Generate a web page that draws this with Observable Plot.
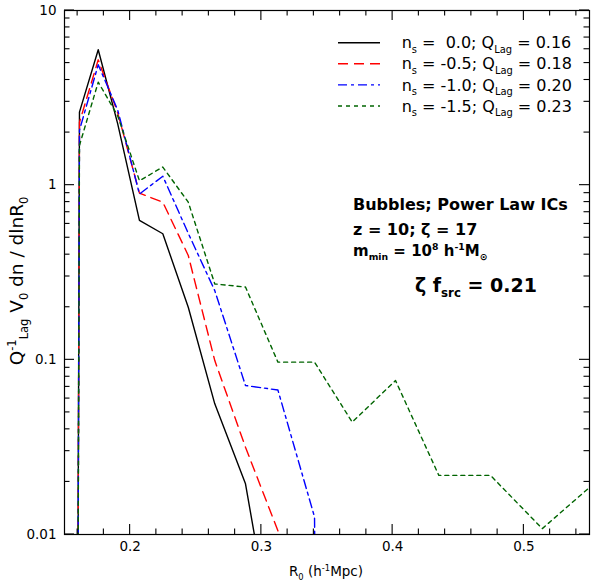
<!DOCTYPE html>
<html><head><meta charset="utf-8">
<script src="https://cdn.jsdelivr.net/npm/d3@7"></script>
<script src="https://cdn.jsdelivr.net/npm/@observablehq/plot@0.6"></script>
<style>
body{margin:0;background:#fff}
#chart{width:594px;height:582px}
text{white-space:pre}
</style>
</head><body><div id="chart"></div>
<script>
// Bin centres R0 (h^-1 Mpc)
const R0 = [0.1485, 0.1614, 0.1757, 0.1905, 0.2071, 0.2249, 0.2443, 0.2645, 0.2879, 0.3126, 0.3405, 0.3692, 0.4022, 0.4352, 0.4746, 0.5140, 0.558];
// Q_Lag^-1 V0 dn/dlnR0 (0 = empty bin)
const ns00 = [0, 2.62, 5.96, 2.25, 0.628, 0.527, 0.200, 0.056, 0.0195, 0.0017, 0, 0, 0, 0, 0, 0, 0];
const ns05 = [0, 2.29, 5.22, 2.60, 0.900, 0.799, 0.396, 0.099, 0.0316, 0.0105, 0, 0, 0, 0, 0, 0, 0];
const ns10 = [0, 2.06, 4.89, 2.70, 0.890, 1.125, 0.530, 0.249, 0.0713, 0.0672, 0.0126, 0, 0, 0, 0, 0, 0];
const ns15 = [0, 1.69, 3.89, 2.50, 1.060, 1.270, 0.799, 0.272, 0.261, 0.097, 0.097, 0.044, 0.0761, 0.0218, 0.0218, 0.0108, 0.021];
const seriesValues = [ns00, ns05, ns10, ns15];
const nsLabels = [" 0.0", "-0.5", "-1.0", "-1.5"];
const qLagLabels = ["0.16", "0.18", "0.20", "0.23"];
const colors = ["#000000", "#ff0000", "#0000ff", "#006400"];
const dashes = [null, "10,6", "9,4,3,4", "4,4"];

const xTicks = [0.2, 0.3, 0.4, 0.5];
const xTickLabels = ["0.2", "0.3", "0.4", "0.5"];
const yTicks = [0.01, 0.1, 1, 10];
const yTickLabels = ["0.01", "0.1", "1", "10"];

const xMinor = d3.range(0.16, 0.5401, 0.02).filter(v => !xTicks.some(t => Math.abs(t - v) < 1e-6));
const yMinor = [];
for (const dec of [0.01, 0.1, 1]) for (let k = 2; k <= 9; k++) yMinor.push(dec * k);

const rows = [];
seriesValues.forEach((vals, i) => R0.forEach((r, j) => rows.push({s: i, r, v: vals[j] > 0 ? vals[j] : 1e-30})));

const W = 594, H = 582, mL = 64, mR = 5, mT = 10, mB = 48;
const MAJ = 10, MIN = 5.5;

const FONT = "'DejaVu Sans', 'Open Sans', sans-serif";

const chart = Plot.plot({
  width: W, height: H,
  marginLeft: mL, marginRight: mR, marginTop: mT, marginBottom: mB,
  style: {fontFamily: FONT, background: "#fff", color: "#000"},
  x: {domain: [0.15, 0.55], axis: null},
  y: {type: "log", domain: [0.01, 10], axis: null},
  marks: [
    ...seriesValues.map((_, i) => Plot.line(rows.filter(d => d.s === i), {x: "r", y: "v", stroke: colors[i], strokeDasharray: dashes[i], strokeWidth: 1.4, clip: true})),
    Plot.text(xTicks, {x: d => d, frameAnchor: "bottom", dy: 16, fontSize: 13.5, text: d => xTickLabels[xTicks.indexOf(d)], fill: "#000"}),
    Plot.text(yTicks, {y: d => d, frameAnchor: "left", dx: -8, textAnchor: "end", fontSize: 13.5, text: d => yTickLabels[yTicks.indexOf(d)], fill: "#000"}),
    Plot.frame({stroke: "#000", strokeWidth: 1.2})
  ]
});
document.getElementById("chart").appendChild(chart);

const svg = d3.select(chart);
const sx = chart.scale("x"), sy = chart.scale("y");
const x0 = mL, x1 = W - mR, y0 = mT, y1 = H - mB;

// inward ticks on all four sides, placed through the plot's own scales
const tg = svg.append("g").attr("stroke", "#000").attr("stroke-width", 1.1);
const addX = (vals, len) => vals.forEach(v => {
  const px = sx.apply(v);
  tg.append("line").attr("x1", px).attr("x2", px).attr("y1", y1).attr("y2", y1 - len);
  tg.append("line").attr("x1", px).attr("x2", px).attr("y1", y0).attr("y2", y0 + len);
});
const addY = (vals, len) => vals.forEach(v => {
  const py = sy.apply(v);
  tg.append("line").attr("y1", py).attr("y2", py).attr("x1", x0).attr("x2", x0 + len);
  tg.append("line").attr("y1", py).attr("y2", py).attr("x1", x1).attr("x2", x1 - len);
});
addX(xTicks, MAJ); addX(xMinor, MIN); addY(yTicks, MAJ); addY(yMinor, MIN);

function rich(x, y, parts, fs, extra = {}) {
  const t = svg.append("text").attr("x", x).attr("y", y).attr("font-size", fs).attr("font-family", FONT).attr("fill", "#000").attr("text-anchor", "start");
  for (const [k, v] of Object.entries(extra)) t.attr(k, v);
  let shift = 0;
  for (const p of parts) {
    const [s, kind] = typeof p === "string" ? [p, null] : p;
    const target = kind === "sub" ? fs * 0.28 : kind === "sup" ? -fs * 0.38 : 0;
    const sp = t.append("tspan").attr("dy", target - shift).text(s);
    if (kind) sp.attr("font-size", fs * 0.62);
    shift = target;
  }
  return t;
}

// Legend
const legY = [42.7, 63.8, 84.9, 106];
nsLabels.forEach((n, i) => {
  svg.append("line").attr("x1", 338).attr("x2", 380).attr("y1", legY[i]).attr("y2", legY[i])
    .attr("stroke", colors[i]).attr("stroke-width", 1.4).attr("stroke-dasharray", dashes[i]);
  rich(401.7, legY[i] + 5.6, ["n", ["s", "sub"], ` = ${n}; Q`, ["Lag", "sub"], ` = ${qLagLabels[i]}`], 16);
});

// Annotations
rich(353, 210, ["Bubbles; Power Law ICs"], 16, {"font-weight": "bold"});
rich(353, 235, ["z = 10; ζ = 17"], 16, {"font-weight": "bold"});
rich(353, 256, ["m", ["min", "sub"], " = 10", ["8", "sup"], " h", ["-1", "sup"], "M", ["⊙", "sub"]], 15, {"font-weight": "bold"});
rich(415, 292, ["ζ f", ["src", "sub"], " = 0.21"], 19, {"font-weight": "bold"});

// Axis titles
rich(326, 576, ["R", ["0", "sub"], " (h", ["-1", "sup"], "Mpc)"], 13.5, {"text-anchor": "middle"});
rich(0, 0, ["Q", ["-1", "sup"], ["Lag", "sub"], " V", ["0", "sub"], " dn / dlnR", ["0", "sub"]], 18.5, {"text-anchor": "middle", transform: "translate(23,281) rotate(-90)"});
</script>
</body></html>
